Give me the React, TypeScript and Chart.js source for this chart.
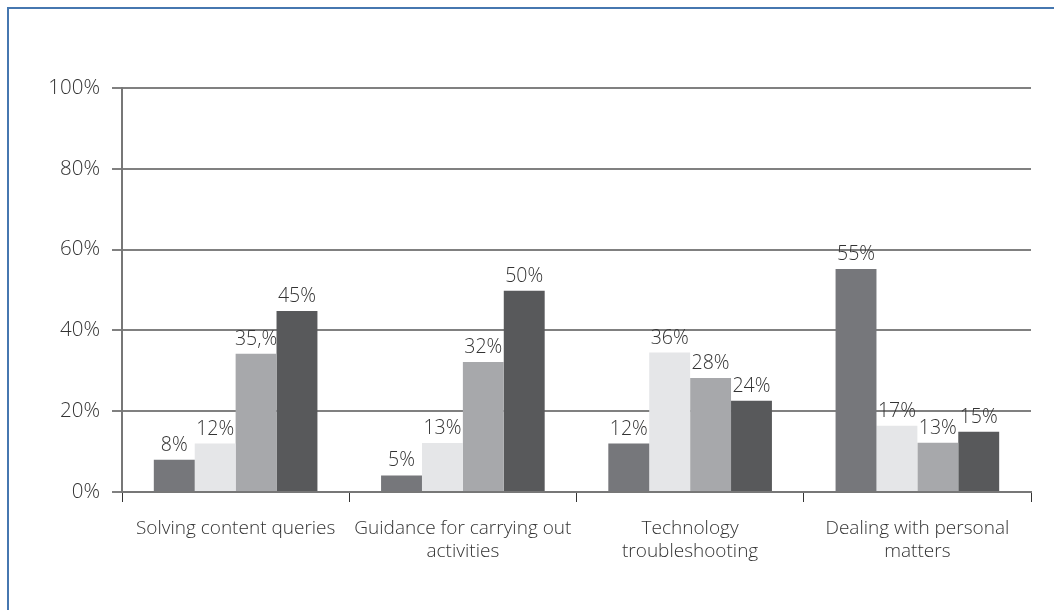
import React, { useEffect, useRef } from "react";
import { Chart, registerables } from "chart.js";

Chart.register(...registerables);

const categories: string[][] = [
  ["Solving content queries"],
  ["Guidance for carrying out", "activities"],
  ["Technology", "troubleshooting"],
  ["Dealing with personal", "matters"],
];

const series1 = [8, 4.1, 12, 55.2];
const series2 = [12, 12.1, 34.5, 16.4];
const series3 = [34.2, 32.2, 28.2, 12.2];
const series4 = [44.8, 49.8, 22.6, 14.9];

const labels1 = ["8%", "5%", "12%", "55%"];
const labels2 = ["12%", "13%", "36%", "17%"];
const labels3 = ["35,%", "32%", "28%", "13%"];
const labels4 = ["45%", "50%", "24%", "15%"];

const yTicks = [0, 20, 40, 60, 80, 100];

const colors = ["#76777b", "#e5e6e8", "#a7a8ab", "#58595b"];
const FONT = "'Open Sans', 'Noto Sans', sans-serif";

const valueLabels = [labels1, labels2, labels3, labels4];

const labelPlugin = {
  id: "valueLabels",
  afterDatasetsDraw(chart: any) {
    const ctx = chart.ctx;
    ctx.save();
    ctx.font = `300 19.5px ${FONT}`;
    ctx.fillStyle = "#333";
    ctx.textAlign = "center";
    ctx.textBaseline = "alphabetic";
    chart.data.datasets.forEach((ds: any, di: number) => {
      const meta = chart.getDatasetMeta(di);
      meta.data.forEach((bar: any, i: number) => {
        ctx.fillText(valueLabels[di][i], bar.x, bar.y - 9);
      });
    });
    ctx.restore();
  },
};

export default function App() {
  const ref = useRef<HTMLCanvasElement>(null);
  useEffect(() => {
    if (!ref.current) return;
    const chart = new Chart(ref.current, {
      type: "bar",
      data: {
        labels: categories,
        datasets: [series1, series2, series3, series4].map((d, i) => ({
          label: "s" + (i + 1),
          data: d,
          backgroundColor: colors[i],
          borderWidth: 0,
          categoryPercentage: 0.72,
          barPercentage: 1.0,
        })),
      },
      options: {
        responsive: false,
        animation: false,
        layout: { padding: { left: 0, top: 88, right: 23, bottom: 0 } },
        plugins: {
          legend: { display: false },
          tooltip: { enabled: false },
        },
        scales: {
          x: {
            afterFit: (s: any) => {
              s.height = 118;
            },
            grid: {
              display: true,
              offset: true,
              drawOnChartArea: false,
              drawTicks: true,
              tickLength: 10,
              color: "#333",
              lineWidth: 1,
            },
            border: { display: true, color: "#777", width: 2 },
            ticks: {
              font: { family: FONT, size: 19, weight: 300, lineHeight: 1.22 },
              color: "#333",
              padding: 15,
              maxRotation: 0,
              autoSkip: false,
            },
          },
          y: {
            min: 0,
            max: 100,
            afterFit: (s: any) => {
              s.width = 122;
            },
            afterBuildTicks: (s: any) => {
              s.ticks = yTicks.map((v) => ({ value: v }));
            },
            grid: {
              color: "#808080",
              lineWidth: 2,
              tickLength: 10,
            },
            border: { display: true, color: "#777", width: 2 },
            ticks: {
              font: { family: FONT, size: 20.5, weight: 300 },
              color: "#333",
              padding: 12,
              callback: (v: any) => v + "%",
            },
          },
        },
      },
      plugins: [labelPlugin],
    });
    return () => chart.destroy();
  }, []);

  return (
    <div style={{ position: "fixed", left: 0, top: 0, width: 1054, height: 610, background: "#fff" }}>
      <div
        style={{
          position: "absolute",
          left: 7,
          top: 7,
          width: 1100,
          height: 700,
          borderTop: "2px solid #4677b0",
          borderLeft: "2px solid #4677b0",
          boxSizing: "border-box",
        }}
      />
      <canvas ref={ref} width={1054} height={610} style={{ position: "absolute", left: 0, top: 0 }} />
    </div>
  );
}
